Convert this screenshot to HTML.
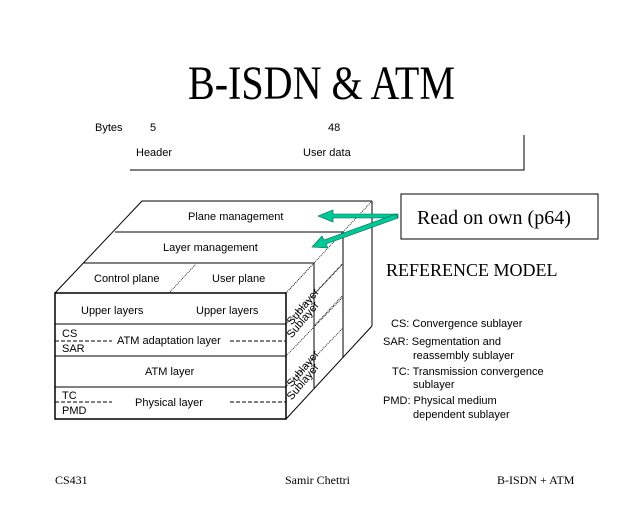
<!DOCTYPE html>
<html><head><meta charset="utf-8"><style>
html,body{margin:0;padding:0;background:#fff;}
svg{display:block}
.s{font-family:"Liberation Sans",sans-serif;font-size:11px;fill:#000}
.t{font-family:"Liberation Serif",serif;fill:#000}
</style></head><body>
<svg width="640" height="512" viewBox="0 0 640 512" xmlns="http://www.w3.org/2000/svg">
<text class="t" x="188" y="99" font-size="48" textLength="267" lengthAdjust="spacingAndGlyphs">B-ISDN &amp; ATM</text>

<text class="s" x="95" y="131" font-size="10">Bytes</text>
<text class="s" x="150" y="131" font-size="10">5</text>
<text class="s" x="328" y="131" font-size="10">48</text>
<text class="s" x="136" y="156">Header</text>
<text class="s" x="303" y="156">User data</text>
<polyline points="130,170 524,170 524,135" fill="none" stroke="#000" stroke-width="1"/>

<g fill="none" stroke="#000" stroke-width="1">
<polyline points="55,293 142,201 372,201"/>
<line x1="115" y1="232" x2="343" y2="232"/>
<line x1="83" y1="263" x2="314" y2="263"/>
<rect x="55" y="293" width="231" height="126" stroke-width="1.5"/>
<line x1="55" y1="324" x2="286" y2="324"/>
<line x1="55" y1="356" x2="286" y2="356"/>
<line x1="55" y1="387" x2="286" y2="387"/>
<line x1="372" y1="201" x2="372" y2="326"/>
<line x1="286" y1="419" x2="372" y2="326"/>
<line x1="343" y1="232" x2="343" y2="357"/>
<line x1="314" y1="263" x2="314" y2="388"/>
<line x1="286" y1="293" x2="314" y2="263" stroke-dasharray="1,1"/>
<g stroke-dasharray="1,1" stroke-width="0.8">
<line x1="343" y1="232" x2="372" y2="201"/>
<line x1="314" y1="263" x2="343" y2="232"/>
<line x1="286" y1="324" x2="343" y2="264"/>
<line x1="286" y1="356" x2="343" y2="297"/>
<line x1="286" y1="387" x2="343" y2="328"/>
<line x1="314" y1="294" x2="343" y2="263"/>
<line x1="314" y1="326" x2="343" y2="295"/>
<line x1="170" y1="292" x2="196" y2="264"/>
</g>
<g stroke-dasharray="4,2">
<line x1="55" y1="341" x2="112" y2="341"/>
<line x1="230" y1="341" x2="286" y2="341"/>
<line x1="55" y1="402" x2="112" y2="402"/>
<line x1="230" y1="402" x2="286" y2="402"/>
</g>
</g>
<g class="s" font-size="6">
<text x="289" y="324" transform="rotate(-50 292 322)">Sublayer</text>
<text x="289" y="337" transform="rotate(-50 292 335)">Sublayer</text>
<text x="289" y="386" transform="rotate(-50 292 384)">Sublayer</text>
<text x="289" y="399" transform="rotate(-50 292 397)">Sublayer</text>
</g>
<text class="s" x="188" y="220">Plane management</text>
<text class="s" x="163" y="251">Layer management</text>
<text class="s" x="94" y="282">Control plane</text>
<text class="s" x="212" y="282">User plane</text>
<text class="s" x="81" y="314">Upper layers</text>
<text class="s" x="196" y="314">Upper layers</text>
<text class="s" x="62" y="337">CS</text>
<text class="s" x="62" y="352">SAR</text>
<text class="s" x="117" y="344">ATM adaptation layer</text>
<text class="s" x="145" y="375">ATM layer</text>
<text class="s" x="62" y="399">TC</text>
<text class="s" x="62" y="414">PMD</text>
<text class="s" x="135" y="406">Physical layer</text>

<g fill="#00c896" stroke="#006650" stroke-width="0.6">
<polygon points="318,216 333,210 333,214 398,214 398,218 333,218 333,222"/>
<polygon points="312,247 322,236 324,240 396,214 398,218 326,244 328,248"/>
</g>
<rect x="401" y="194" width="197" height="45" fill="#fff" stroke="#000"/>
<text class="t" x="417" y="224" font-size="20">Read on own (p64)</text>
<text class="t" x="386" y="276" font-size="18">REFERENCE MODEL</text>

<g class="s" font-size="11">
<text x="391" y="327">CS: Convergence sublayer</text>
<text x="383" y="345">SAR: Segmentation and</text>
<text x="413" y="359">reassembly sublayer</text>
<text x="392" y="375">TC: Transmission convergence</text>
<text x="413" y="388">sublayer</text>
<text x="383" y="404">PMD: Physical medium</text>
<text x="413" y="418">dependent sublayer</text>
</g>

<g class="t" font-size="12">
<text x="55" y="484">CS431</text>
<text x="285" y="484">Samir Chettri</text>
<text x="497" y="484">B-ISDN + ATM</text>
</g>
</svg>
</body></html>
